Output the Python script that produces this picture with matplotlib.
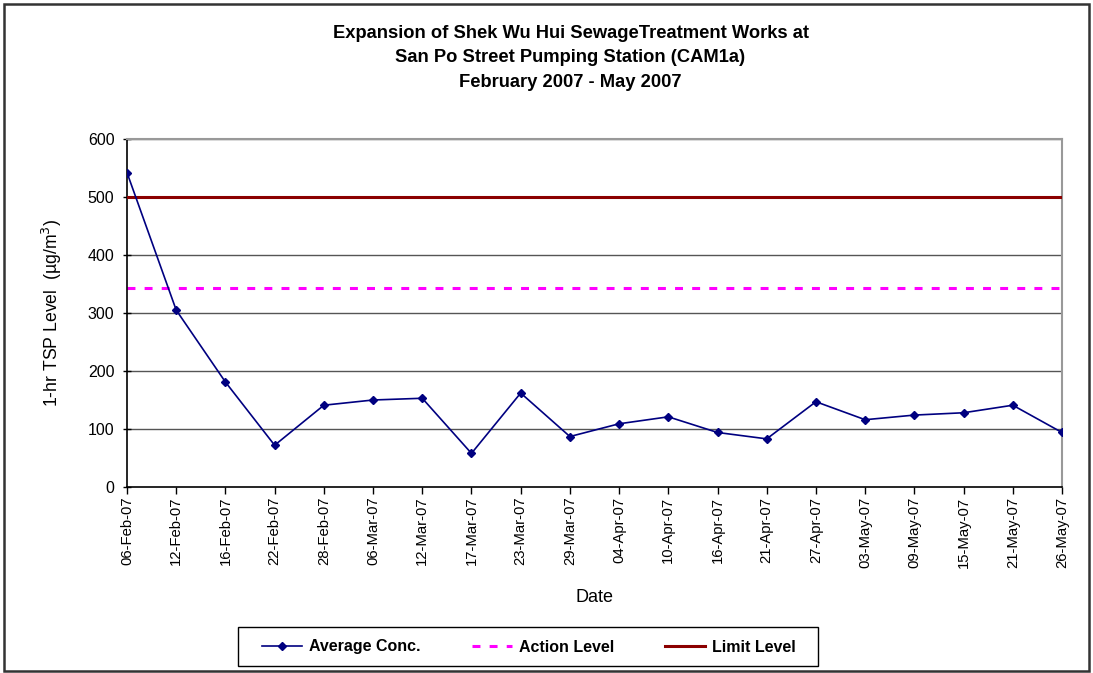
import matplotlib.pyplot as plt
from matplotlib.patches import Rectangle

plt.rcParams['font.family'] = ['Liberation Sans', 'DejaVu Sans']

# Data
dates = ['06-Feb-07', '12-Feb-07', '16-Feb-07', '22-Feb-07', '28-Feb-07',
         '06-Mar-07', '12-Mar-07', '17-Mar-07', '23-Mar-07', '29-Mar-07',
         '04-Apr-07', '10-Apr-07', '16-Apr-07', '21-Apr-07', '27-Apr-07',
         '03-May-07', '09-May-07', '15-May-07', '21-May-07', '26-May-07']
avg_conc = [542, 305, 181, 72, 141, 150, 153, 58, 162, 87,
            109, 121, 94, 83, 147, 116, 124, 128, 141, 94]
action_level = 343
limit_level = 500
y_ticks = [0, 100, 200, 300, 400, 500, 600]

fig = plt.figure(figsize=(10.93, 6.73), dpi=100)
ax = fig.add_axes([127 / 1093, 1 - 487 / 673, (1062 - 127) / 1093, (487 - 139) / 673])

x = list(range(len(dates)))

# Gridlines
for v in y_ticks[1:]:
    ax.axhline(v, color='#555555', lw=1.0, zorder=1)

ax.plot(x, [action_level] * len(x), color='#ff00ff', lw=2.2, ls=(0, (2.6, 3.0)),
        label='Action Level', zorder=2)
ax.plot(x, [limit_level] * len(x), color='#8b0000', lw=2.2, label='Limit Level', zorder=3)
ax.plot(x, avg_conc, color='#000080', lw=1.2, marker='D', ms=4.5, mfc='#000080',
        mec='#000080', label='Average Conc.', zorder=4)

ax.set_xlim(0, len(dates) - 1)
ax.set_ylim(0, 600)
ax.set_yticks(y_ticks)
ax.set_xticks(x)
ax.set_xticklabels(dates, rotation=90, fontsize=10.7)
ax.tick_params(axis='y', labelsize=11.5, direction='inout', length=6, width=1, pad=6)
ax.tick_params(axis='x', direction='out', length=5, width=1, pad=2)

for s in ['top', 'right']:
    ax.spines[s].set_color('#999999')
    ax.spines[s].set_linewidth(1.5)
for s in ['left', 'bottom']:
    ax.spines[s].set_color('black')
    ax.spines[s].set_linewidth(1.2)

ax.set_ylabel('1-hr TSP Level  (\u00b5g/m$^3$)', fontsize=12.7, labelpad=17)
ax.set_xlabel('Date', fontsize=13, labelpad=15)

fig.text(0.522, 1 - 58 / 673, 'Expansion of Shek Wu Hui SewageTreatment Works at\n'
         'San Po Street Pumping Station (CAM1a)\nFebruary 2007 - May 2007',
         ha='center', va='center', fontsize=13.2, fontweight='bold', linespacing=1.55)

handles, labels = ax.get_legend_handles_labels()
order = [2, 0, 1]
leg = fig.legend([handles[i] for i in order], [labels[i] for i in order],
                 loc='center', bbox_to_anchor=(529 / 1093, 1 - 647 / 673), ncol=3,
                 frameon=False, prop={'weight': 'bold', 'size': 11.5},
                 columnspacing=3.2, handlelength=2.5, handletextpad=0.45)

# Legend box
fig.patches.append(Rectangle((238 / 1093, 1 - 666 / 673), 580 / 1093, 39 / 673,
                             transform=fig.transFigure, fill=False,
                             edgecolor='black', lw=1.0))

# Outer chart border
fig.patches.append(Rectangle((4 / 1093, 2 / 673), 1085 / 1093, 667 / 673,
                             transform=fig.transFigure, fill=False,
                             edgecolor='#333333', lw=1.8))

fig.savefig('out.png', dpi=100)
